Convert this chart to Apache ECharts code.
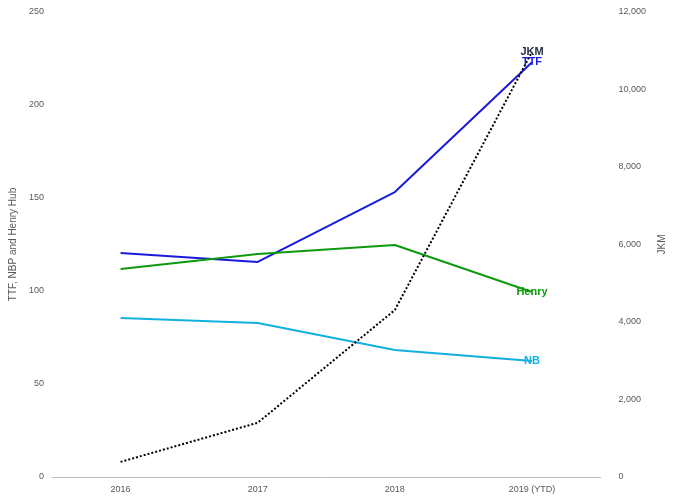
<!DOCTYPE html>
<html><head><meta charset="utf-8">
<script src="https://cdn.jsdelivr.net/npm/echarts@6/dist/echarts.min.js"></script>
<style>html,body{margin:0;padding:0;background:#fff}#c{width:675px;height:500px}</style>
</head><body><div id="c"></div>
<script>
const categories = ['2016','2017','2018','2019 (YTD)'];
const ttf = [120.4, 115.6, 153.2, 223];
const henry = [111.8, 119.9, 124.7, 99.5];
const nb = [85.5, 82.8, 68.3, 62.4];
const jkm = [390, 1400, 4310, 10970];
const leftTicks = [0,50,100,150,200,250];
const rightTicks = [0,2000,4000,6000,8000,10000,12000];

function withEndLabel(arr, text, color, off){
  return arr.map((v,i)=> i===arr.length-1 ? {value:v,label:{show:true,formatter:text,color:color,fontWeight:'bold',fontSize:11,fontFamily:'Liberation Sans',offset:off,position:'inside'}} : v);
}
const chart = echarts.init(document.getElementById('c'));
const txt = {color:'#595959',fontSize:9,fontFamily:'Liberation Sans'};
const common = {showSymbol:true,symbol:'circle',symbolSize:0,labelLayout:{hideOverlap:false}};
chart.setOption({
  animation:false,
  grid:{left:52,right:59,top:12,bottom:23},
  xAxis:{type:'category',data:categories,boundaryGap:true,
    axisLine:{lineStyle:{color:'#bfbfbf'}},axisTick:{show:false},axisLabel:Object.assign({margin:8},txt)},
  yAxis:[
    {type:'value',min:0,max:250,interval:50,splitLine:{show:false},axisLine:{show:false},axisTick:{show:false},
     axisLabel:txt,name:'TTF, NBP and Henry Hub',nameLocation:'middle',nameGap:30,nameRotate:90,
     nameTextStyle:{color:'#595959',fontSize:10,fontFamily:'Liberation Sans'}},
    {type:'value',min:0,max:12000,interval:2000,splitLine:{show:false},axisLine:{show:false},axisTick:{show:false},
     axisLabel:Object.assign({formatter:v=>v.toLocaleString('en-US'),margin:18},txt),name:'JKM',nameLocation:'middle',nameGap:50,nameRotate:90,
     nameTextStyle:{color:'#595959',fontSize:10,fontFamily:'Liberation Sans'}}
  ],
  series:[
    Object.assign({type:'line',name:'TTF',data:withEndLabel(ttf,'TTF','#1a1adb',[-77,54]),lineStyle:{color:'#1a1adb',width:2},itemStyle:{color:'#1a1adb'}},common),
    Object.assign({type:'line',name:'Henry',data:withEndLabel(henry,'Henry','#0e9a0e',[8,-14]),lineStyle:{color:'#0e9a0e',width:2},itemStyle:{color:'#0e9a0e'}},common),
    Object.assign({type:'line',name:'NB',data:withEndLabel(nb,'NB','#12b0e0',[-5,-16]),lineStyle:{color:'#12b0e0',width:2},itemStyle:{color:'#12b0e0'}},common),
    Object.assign({type:'line',name:'JKM',yAxisIndex:1,data:withEndLabel(jkm,'JKM','#1f2d3d',[-23,97]),lineStyle:{color:'#000',width:2,type:[2,2]},itemStyle:{color:'#000'}},common)
  ]
});
</script></body></html>
